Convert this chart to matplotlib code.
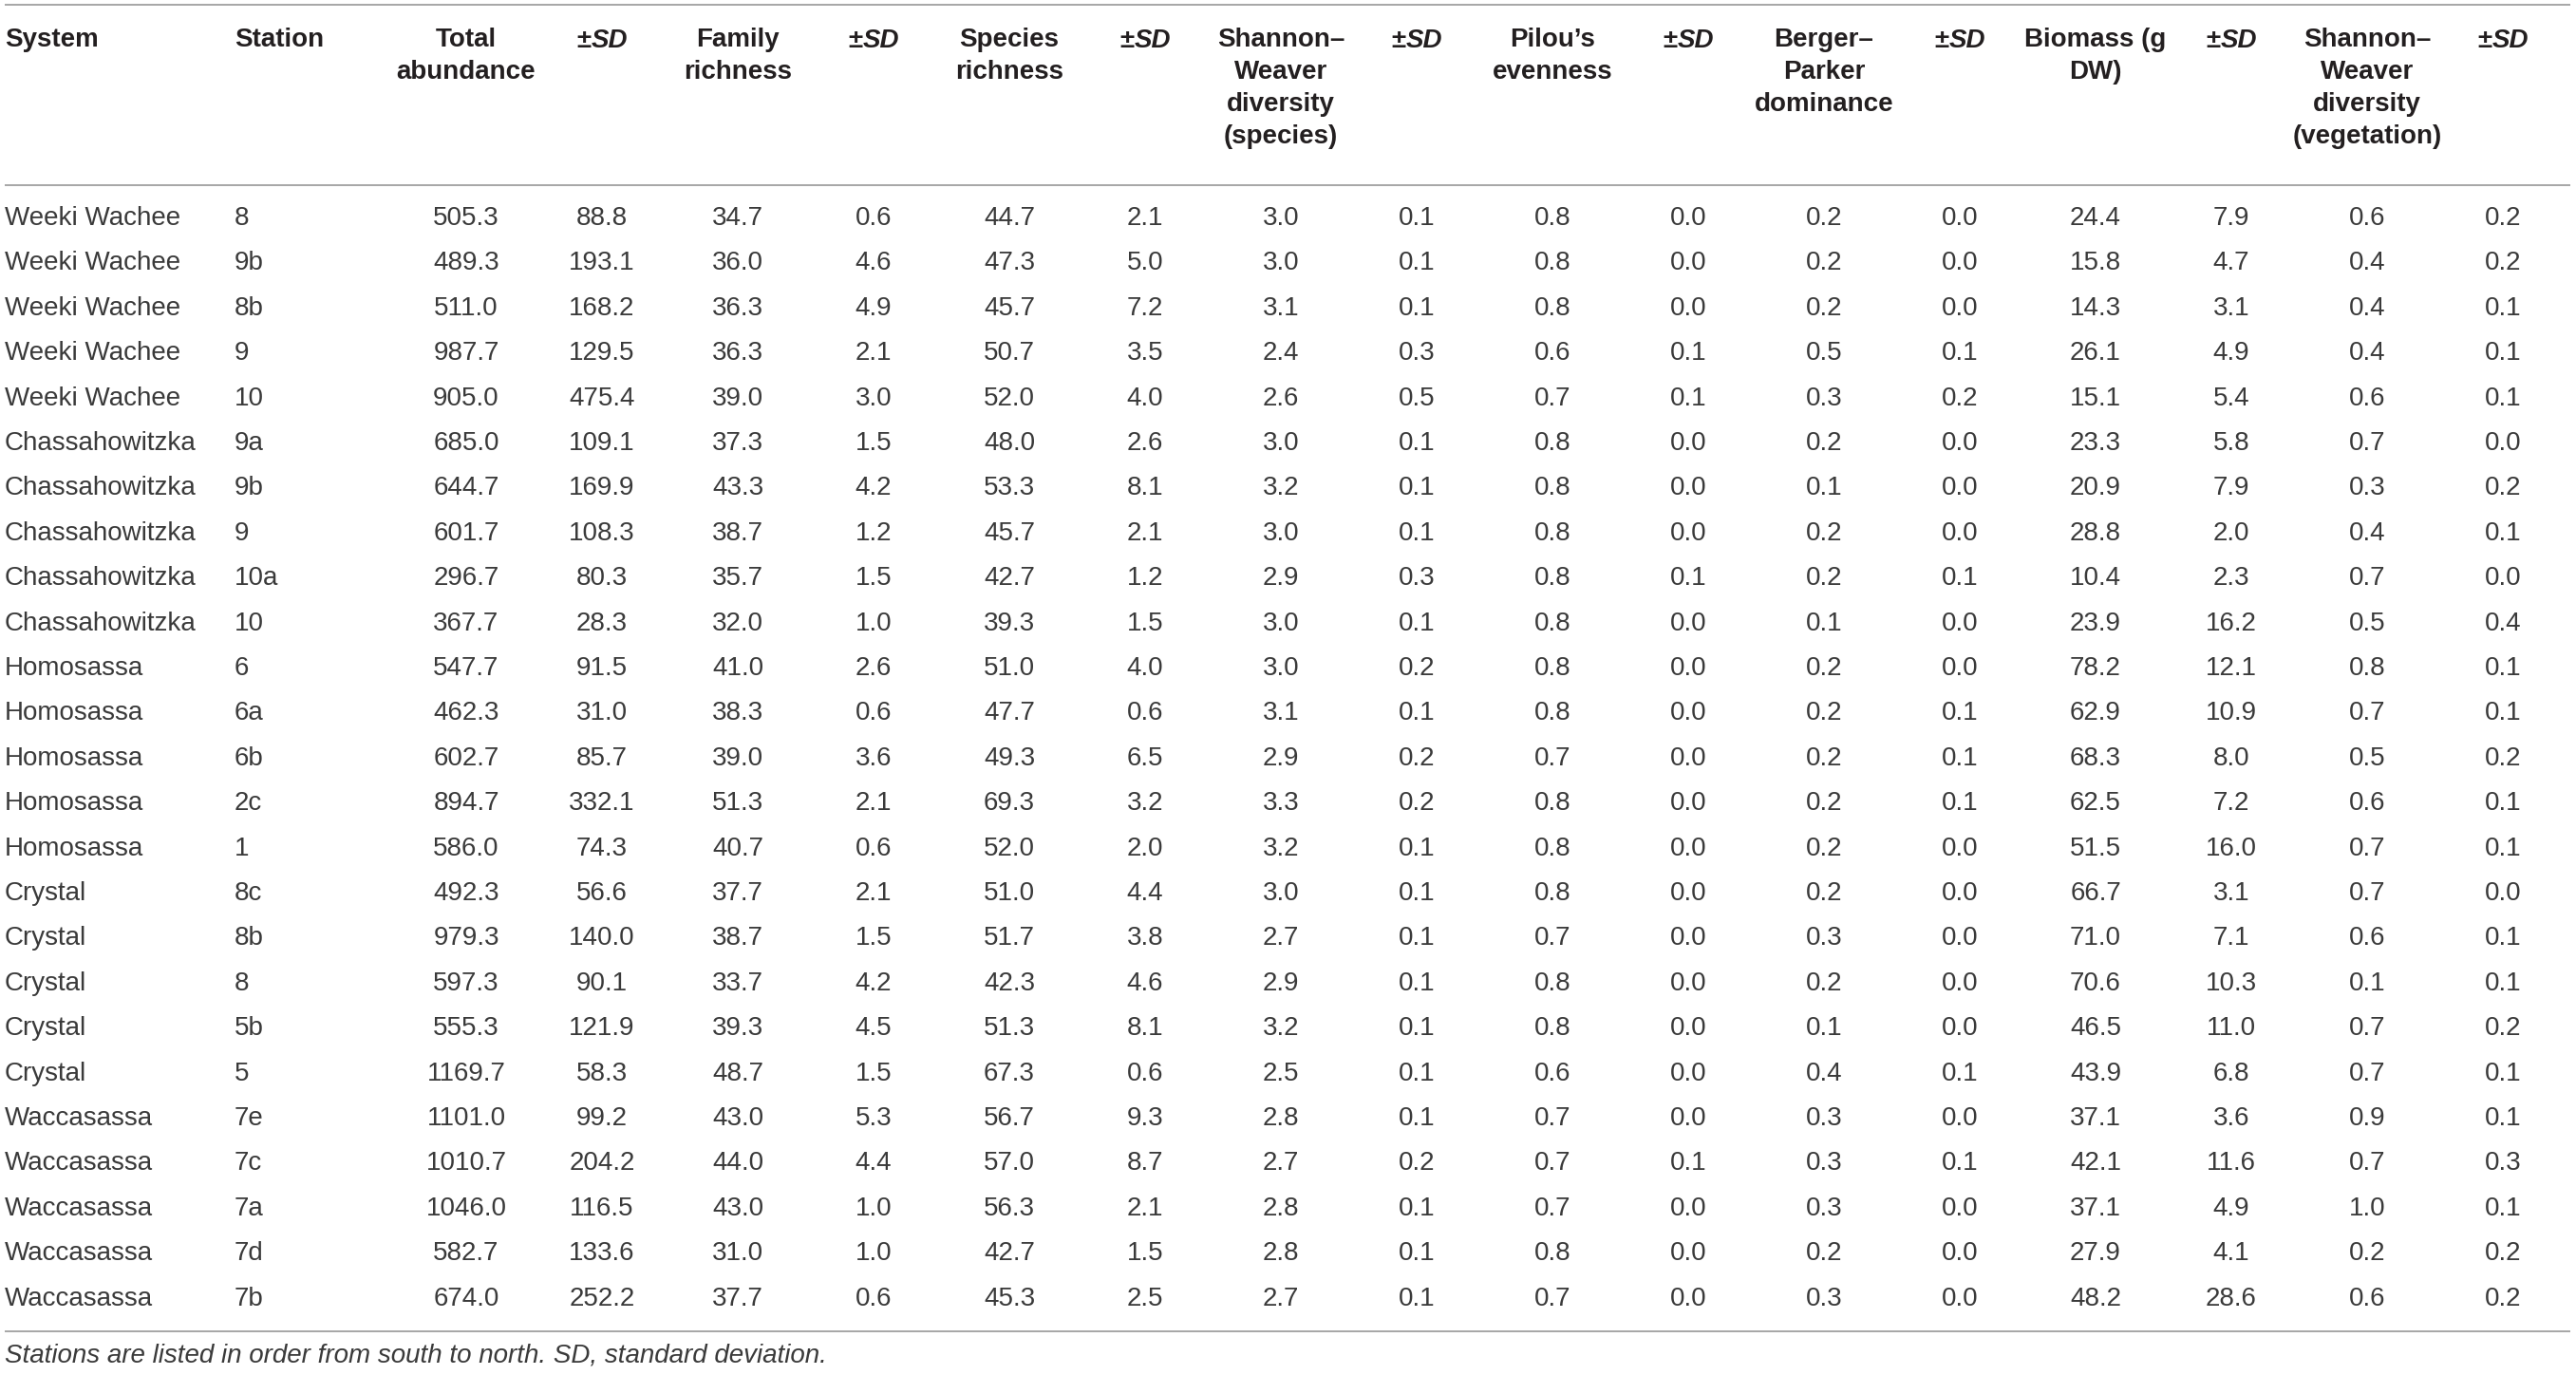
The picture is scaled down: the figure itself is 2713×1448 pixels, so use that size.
import matplotlib
matplotlib.use("Agg")
import matplotlib.pyplot as plt

plt.rcParams['font.family'] = ['Liberation Sans', 'DejaVu Sans']

systems = (["Weeki Wachee"] * 5 + ["Chassahowitzka"] * 5 + ["Homosassa"] * 5
           + ["Crystal"] * 5 + ["Waccasassa"] * 5)
stations = ["8", "9b", "8b", "9", "10",
            "9a", "9b", "9", "10a", "10",
            "6", "6a", "6b", "2c", "1",
            "8c", "8b", "8", "5b", "5",
            "7e", "7c", "7a", "7d", "7b"]
total_abundance = [505.3, 489.3, 511.0, 987.7, 905.0, 685.0, 644.7, 601.7, 296.7, 367.7,
                   547.7, 462.3, 602.7, 894.7, 586.0, 492.3, 979.3, 597.3, 555.3, 1169.7,
                   1101.0, 1010.7, 1046.0, 582.7, 674.0]
total_abundance_sd = [88.8, 193.1, 168.2, 129.5, 475.4, 109.1, 169.9, 108.3, 80.3, 28.3,
                      91.5, 31.0, 85.7, 332.1, 74.3, 56.6, 140.0, 90.1, 121.9, 58.3,
                      99.2, 204.2, 116.5, 133.6, 252.2]
family_richness = [34.7, 36.0, 36.3, 36.3, 39.0, 37.3, 43.3, 38.7, 35.7, 32.0,
                   41.0, 38.3, 39.0, 51.3, 40.7, 37.7, 38.7, 33.7, 39.3, 48.7,
                   43.0, 44.0, 43.0, 31.0, 37.7]
family_richness_sd = [0.6, 4.6, 4.9, 2.1, 3.0, 1.5, 4.2, 1.2, 1.5, 1.0,
                      2.6, 0.6, 3.6, 2.1, 0.6, 2.1, 1.5, 4.2, 4.5, 1.5,
                      5.3, 4.4, 1.0, 1.0, 0.6]
species_richness = [44.7, 47.3, 45.7, 50.7, 52.0, 48.0, 53.3, 45.7, 42.7, 39.3,
                    51.0, 47.7, 49.3, 69.3, 52.0, 51.0, 51.7, 42.3, 51.3, 67.3,
                    56.7, 57.0, 56.3, 42.7, 45.3]
species_richness_sd = [2.1, 5.0, 7.2, 3.5, 4.0, 2.6, 8.1, 2.1, 1.2, 1.5,
                       4.0, 0.6, 6.5, 3.2, 2.0, 4.4, 3.8, 4.6, 8.1, 0.6,
                       9.3, 8.7, 2.1, 1.5, 2.5]
sw_species = [3.0, 3.0, 3.1, 2.4, 2.6, 3.0, 3.2, 3.0, 2.9, 3.0,
              3.0, 3.1, 2.9, 3.3, 3.2, 3.0, 2.7, 2.9, 3.2, 2.5,
              2.8, 2.7, 2.8, 2.8, 2.7]
sw_species_sd = [0.1, 0.1, 0.1, 0.3, 0.5, 0.1, 0.1, 0.1, 0.3, 0.1,
                 0.2, 0.1, 0.2, 0.2, 0.1, 0.1, 0.1, 0.1, 0.1, 0.1,
                 0.1, 0.2, 0.1, 0.1, 0.1]
pilou = [0.8, 0.8, 0.8, 0.6, 0.7, 0.8, 0.8, 0.8, 0.8, 0.8,
         0.8, 0.8, 0.7, 0.8, 0.8, 0.8, 0.7, 0.8, 0.8, 0.6,
         0.7, 0.7, 0.7, 0.8, 0.7]
pilou_sd = [0.0, 0.0, 0.0, 0.1, 0.1, 0.0, 0.0, 0.0, 0.1, 0.0,
            0.0, 0.0, 0.0, 0.0, 0.0, 0.0, 0.0, 0.0, 0.0, 0.0,
            0.0, 0.1, 0.0, 0.0, 0.0]
berger = [0.2, 0.2, 0.2, 0.5, 0.3, 0.2, 0.1, 0.2, 0.2, 0.1,
          0.2, 0.2, 0.2, 0.2, 0.2, 0.2, 0.3, 0.2, 0.1, 0.4,
          0.3, 0.3, 0.3, 0.2, 0.3]
berger_sd = [0.0, 0.0, 0.0, 0.1, 0.2, 0.0, 0.0, 0.0, 0.1, 0.0,
             0.0, 0.1, 0.1, 0.1, 0.0, 0.0, 0.0, 0.0, 0.0, 0.1,
             0.0, 0.1, 0.0, 0.0, 0.0]
biomass = [24.4, 15.8, 14.3, 26.1, 15.1, 23.3, 20.9, 28.8, 10.4, 23.9,
           78.2, 62.9, 68.3, 62.5, 51.5, 66.7, 71.0, 70.6, 46.5, 43.9,
           37.1, 42.1, 37.1, 27.9, 48.2]
biomass_sd = [7.9, 4.7, 3.1, 4.9, 5.4, 5.8, 7.9, 2.0, 2.3, 16.2,
              12.1, 10.9, 8.0, 7.2, 16.0, 3.1, 7.1, 10.3, 11.0, 6.8,
              3.6, 11.6, 4.9, 4.1, 28.6]
sw_vegetation = [0.6, 0.4, 0.4, 0.4, 0.6, 0.7, 0.3, 0.4, 0.7, 0.5,
                 0.8, 0.7, 0.5, 0.6, 0.7, 0.7, 0.6, 0.1, 0.7, 0.7,
                 0.9, 0.7, 1.0, 0.2, 0.6]
sw_vegetation_sd = [0.2, 0.2, 0.1, 0.1, 0.1, 0.0, 0.2, 0.1, 0.0, 0.4,
                    0.1, 0.1, 0.2, 0.1, 0.1, 0.0, 0.1, 0.1, 0.2, 0.1,
                    0.1, 0.3, 0.1, 0.2, 0.2]

headers = ["System", "Station", "Total\nabundance", "±SD", "Family\nrichness", "±SD",
           "Species\nrichness", "±SD", "Shannon–\nWeaver\ndiversity\n(species)", "±SD",
           "Pilou’s\nevenness", "±SD", "Berger–\nParker\ndominance", "±SD",
           "Biomass (g\nDW)", "±SD", "Shannon–\nWeaver\ndiversity\n(vegetation)", "±SD"]
footnote = "Stations are listed in order from south to north. SD, standard deviation."

numeric_cols = [total_abundance, total_abundance_sd, family_richness, family_richness_sd,
                species_richness, species_richness_sd, sw_species, sw_species_sd,
                pilou, pilou_sd, berger, berger_sd, biomass, biomass_sd,
                sw_vegetation, sw_vegetation_sd]

W, H = 2713, 1448
fig = plt.figure(figsize=(W / 100, H / 100), dpi=100)
ax = fig.add_axes([0, 0, 1, 1])
ax.set_xlim(0, W)
ax.set_ylim(H, 0)
ax.axis('off')

FS = 20
body_color = '#3a3a3a'
head_color = '#231f20'
line_color = '#a6a6a6'

x_system = 5
x_station = 247
num_x0 = 491
num_dx = 143.0
col_x = [num_x0 + i * num_dx for i in range(len(numeric_cols))]

y_top_line = 5
y_head_line = 195
y_bottom_line = 1402
y_head = 43
y_row0 = 230
row_h = 47.4
y_foot = 1428

for yl in (y_top_line, y_head_line, y_bottom_line):
    ax.plot([5, 2707], [yl, yl], color=line_color, lw=1.4, solid_capstyle='butt')

renderer = fig.canvas.get_renderer()


def width_px(t):
    return t.get_window_extent(renderer=renderer).width


# headers
all_x = [x_system, x_station] + col_x
for i, h in enumerate(headers):
    x = all_x[i]
    if h == "±SD":
        t1 = ax.text(0, y_head, "±", fontsize=FS, fontweight='bold', color=head_color,
                     va='center', ha='left')
        t2 = ax.text(0, y_head, "SD", fontsize=FS, fontweight='bold', style='italic',
                     color=head_color, va='center', ha='left')
        w1 = width_px(t1)
        w2 = width_px(t2)
        left = x - (w1 + w2) / 2
        t1.set_x(left)
        t2.set_x(left + w1)
    else:
        ha = 'left' if i < 2 else 'center'
        ax.text(x, y_head - 14, h, fontsize=FS, fontweight='bold', color=head_color,
                ha=ha, va='top', linespacing=1.4,
                multialignment='center' if i >= 2 else 'left')

# rows
for r in range(len(systems)):
    y = y_row0 + r * row_h
    ax.text(x_system, y, systems[r], fontsize=FS, color=body_color, ha='left', va='center')
    ax.text(x_station, y, stations[r], fontsize=FS, color=body_color, ha='left', va='center')
    for c, col in enumerate(numeric_cols):
        ax.text(col_x[c], y, f"{col[r]:.1f}", fontsize=FS, color=body_color,
                ha='center', va='center')

ax.text(x_system, y_foot, footnote, fontsize=FS, style='italic', color=body_color,
        ha='left', va='center')

fig.savefig("out.png", dpi=100)
